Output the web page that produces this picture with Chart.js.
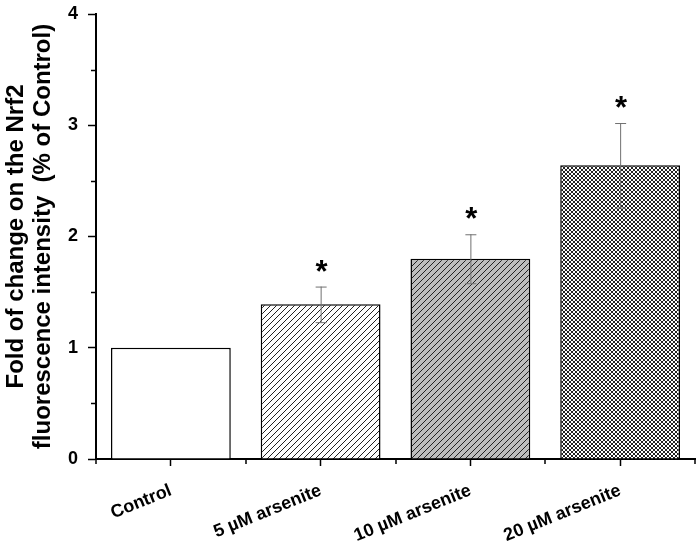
<!DOCTYPE html>
<html>
<head>
<meta charset="utf-8">
<script src="https://cdn.jsdelivr.net/npm/chart.js@4.4.1/dist/chart.umd.min.js"></script>
<style>
  html, body { margin: 0; padding: 0; background: #fff; }
  #wrap { width: 697px; height: 553px; }
</style>
</head>
<body>
<div id="wrap"><canvas id="nrf2Chart"></canvas></div>
<script>
const categories = ['Control', '5 µM arsenite', '10 µM arsenite', '20 µM arsenite'];
const foldValues = [1.0, 1.39, 1.80, 2.64];
const errorValues = [0, 0.16, 0.22, 0.38];
const significant = [false, true, true, true];
const yMinorTicks = [0.5, 1.5, 2.5, 3.5];
const FONT = 'Arial, "Liberation Sans", sans-serif';

// build hatch fills
function makePattern(size, bg, drawer) {
  const c = document.createElement('canvas');
  c.width = size; c.height = size;
  const g = c.getContext('2d');
  g.fillStyle = bg;
  g.fillRect(0, 0, size, size);
  g.strokeStyle = '#222';
  g.lineWidth = 1;
  drawer(g, size);
  return g.createPattern(c, 'repeat');
}
function forward(g, s) {
  g.beginPath();
  g.moveTo(0, s); g.lineTo(s, 0);
  g.moveTo(-1, 1); g.lineTo(1, -1);
  g.moveTo(s - 1, s + 1); g.lineTo(s + 1, s - 1);
  g.stroke();
}
function cross(g, s) {
  forward(g, s);
  g.beginPath();
  g.moveTo(0, 0); g.lineTo(s, s);
  g.moveTo(-1, s - 1); g.lineTo(1, s + 1);
  g.moveTo(s - 1, -1); g.lineTo(s + 1, 1);
  g.stroke();
}

const fills = [
  '#ffffff',
  makePattern(6, '#ffffff', forward),
  makePattern(6, '#bdbdbd', forward),
  makePattern(4, '#ffffff', cross)
];

const extrasPlugin = {
  id: 'extras',
  afterDatasetsDraw(chart) {
    const { ctx, scales: { x, y } } = chart;
    ctx.save();
    // error bars + asterisks
    foldValues.forEach((v, i) => {
      const cx = x.getPixelForValue(i);
      const err = errorValues[i];
      const top = y.getPixelForValue(v + err);
      if (err > 0) {
        const bot = y.getPixelForValue(v - err);
        ctx.strokeStyle = '#707070';
        ctx.lineWidth = 1;
        ctx.beginPath();
        ctx.moveTo(cx + 0.5, top); ctx.lineTo(cx + 0.5, bot);
        ctx.moveTo(cx - 5, top + 0.5); ctx.lineTo(cx + 6, top + 0.5);
        ctx.moveTo(cx - 5, bot + 0.5); ctx.lineTo(cx + 6, bot + 0.5);
        ctx.stroke();
      }
      if (significant[i]) {
        ctx.fillStyle = '#000';
        ctx.font = 'bold 31px ' + FONT;
        ctx.textAlign = 'center';
        ctx.textBaseline = 'alphabetic';
        ctx.fillText('*', cx + 1, top - 5);
      }
    });
    // minor ticks
    ctx.strokeStyle = '#000';
    ctx.lineWidth = 1.5;
    ctx.beginPath();
    yMinorTicks.forEach(t => {
      const py = Math.round(y.getPixelForValue(t)) + 0.5;
      ctx.moveTo(x.left, py); ctx.lineTo(x.left - 5, py);
    });
    for (let i = 0; i <= categories.length; i++) {
      const px = Math.round(x.getPixelForValue(i - 0.5));
      ctx.moveTo(px, y.bottom); ctx.lineTo(px, y.bottom + 5);
    }
    ctx.stroke();
    ctx.restore();
  }
};

new Chart(document.getElementById('nrf2Chart'), {
  type: 'bar',
  data: {
    labels: categories,
    datasets: [{
      data: foldValues,
      backgroundColor: fills,
      borderColor: '#000',
      borderWidth: 1.5,
      barPercentage: 0.8,
      categoryPercentage: 1.0
    }]
  },
  plugins: [extrasPlugin],
  options: {
    responsive: true,
    maintainAspectRatio: false,
    animation: false,
    layout: { padding: { top: 0, right: 2, left: 0, bottom: 0 } },
    plugins: { legend: { display: false }, tooltip: { enabled: false } },
    scales: {
      x: {
        offset: true,
        afterFit(scale) { scale.height = 94; },
        border: { color: '#000', width: 2 },
        grid: { offset: false, drawOnChartArea: false, tickLength: 7, tickColor: '#000', tickWidth: 1.5 },
        ticks: {
          color: '#000',
          font: { family: FONT, size: 18, weight: 'bold' },
          minRotation: 22,
          maxRotation: 22,
          padding: 14
        }
      },
      y: {
        min: 0,
        max: 4,
        afterFit(scale) { scale.width = 96; scale.paddingTop = 14; },
        border: { color: '#000', width: 2 },
        grid: { drawOnChartArea: false, tickLength: 8, tickColor: '#000', tickWidth: 1.5 },
        ticks: {
          stepSize: 1,
          color: '#000',
          padding: 10,
          font: { family: FONT, size: 18, weight: 'bold' }
        },
        title: {
          display: true,
          text: ['Fold of change on the Nrf2', 'fluorescence intensity  (% of Control)'],
          color: '#000',
          font: { family: FONT, size: 24, weight: 'bold', lineHeight: 1.125 },
          padding: { top: 3, bottom: 0 }
        }
      }
    }
  }
});
</script>
</body>
</html>
